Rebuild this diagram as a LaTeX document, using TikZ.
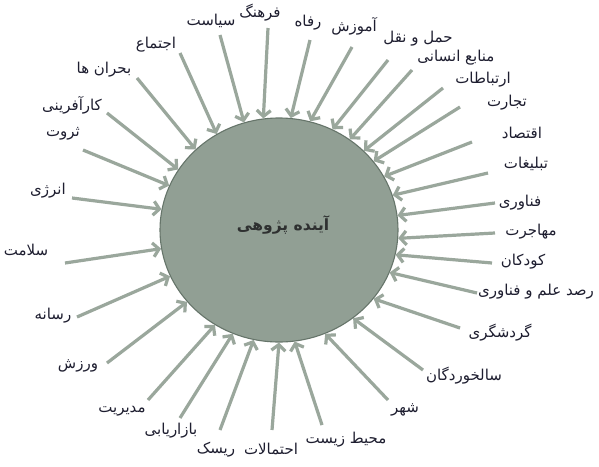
\documentclass[tikz,border=0pt]{standalone}
\usepackage{fontspec}
\usetikzlibrary{shapes.geometric,arrows.meta}
\newfontfamily\fa[Script=Arabic]{DejaVu Sans}
\TeXXeTstate=1
\definecolor{labc}{HTML}{1E1E30}
\definecolor{arrc}{HTML}{9AA79C}
\definecolor{circf}{HTML}{919F94}
\definecolor{circd}{HTML}{66756A}
\definecolor{ctxt}{HTML}{2E3030}
\tikzset{
  lab/.style={font={\fa\fontsize{15}{17}\selectfont}, text=labc, inner sep=0pt},
  arr/.style={draw=arrc, line width=3.2pt, -{Straight Barb[length=6pt,width=14pt]}},
  bigc/.style={ellipse, minimum width=238pt, minimum height=224pt, inner sep=0pt,
               fill=circf, draw=circd, line width=1.1pt},
}
\newcommand\spoke[5]{%
  \node[lab] (t#1) at (#2) {#3};
  \coordinate (s#1) at (#4);
  \draw[arr] (s#1) -- (c.#5);
}
\begin{document}
\begin{tikzpicture}[x=1pt,y=-1pt]
\fill[white] (0,0) rectangle (599,466);
\useasboundingbox (0,0) rectangle (599,466);
\node[bigc] (c) at (279,230) {};
\node[font={\fa\bfseries\fontsize{15.5}{18}\selectfont}, text=ctxt, inner sep=0pt] (ct) at (283,225) {\beginR آینده پژوهی\endR};
\spoke{a}{156,45}{\beginR اجتماع\endR}{180,53}{123.3}
\spoke{b}{104,70}{\beginR بحران ها\endR}{137,78}{136}
\spoke{c}{72,105}{\beginR کارآفرینی\endR}{107,113}{149.5}
\spoke{d}{63,134}{\beginR ثروت\endR}{83,150}{158.5}
\spoke{e}{48,191}{\beginR انرژی\endR}{72,198}{170.5}
\spoke{f}{26,250}{\beginR سلامت\endR}{65,263}{-171.9}
\spoke{g}{53,316}{\beginR رسانه\endR}{77,317}{-157.6}
\spoke{h}{78,366}{\beginR ورزش\endR}{107,363}{-142.2}
\spoke{i}{122,411}{\beginR مدیریت\endR}{148,400}{-124.6}
\spoke{j}{171,431}{\beginR بازاریابی\endR}{180,418}{-114.9}
\spoke{k}{216,450}{\beginR ریسک\endR}{220,430}{-103.2}
\spoke{l}{271,449}{\beginR احتمالات\endR}{272,430}{-90.5}
\spoke{m}{346,440}{\beginR محیط زیست\endR}{322,425}{-82.1}
\spoke{n}{405,410}{\beginR شهر\endR}{388,400}{-66}
\spoke{o}{464,376}{\beginR سالخوردگان\endR}{423,370}{-50.6}
\spoke{p}{500,333}{\beginR گردشگری\endR}{460,328}{-36.3}
\spoke{q}{536,292}{\beginR رصد علم و فناوری\endR}{477,293}{-21.8}
\spoke{r}{523,262}{\beginR کودکان\endR}{492,263}{-12.8}
\spoke{s}{531,232}{\beginR مهاجرت\endR}{495,233}{-4.6}
\spoke{t}{520,203}{\beginR فناوری\endR}{495,203}{7.7}
\spoke{u}{526,164}{\beginR تبلیغات\endR}{488,173}{17}
\spoke{v}{522,133}{\beginR اقتصاد\endR}{472,142}{27.6}
\spoke{w}{507,103}{\beginR تجارت\endR}{460,107}{36}
\spoke{x}{483,80}{\beginR ارتباطات\endR}{443,88}{43.6}
\spoke{y}{456,58}{\beginR منابع انسانی\endR}{412,70}{52.3}
\spoke{z}{418,39}{\beginR حمل و نقل\endR}{388,60}{62.5}
\spoke{A}{354,26}{\beginR آموزش\endR}{352,47}{74.3}
\spoke{B}{308,23}{\beginR رفاه\endR}{310,40}{84.7}
\spoke{C}{260,13}{\beginR فرهنگ\endR}{268,28}{98.6}
\spoke{D}{211,21}{\beginR سیاست\endR}{220,35}{108.9}
\end{tikzpicture}
\end{document}
